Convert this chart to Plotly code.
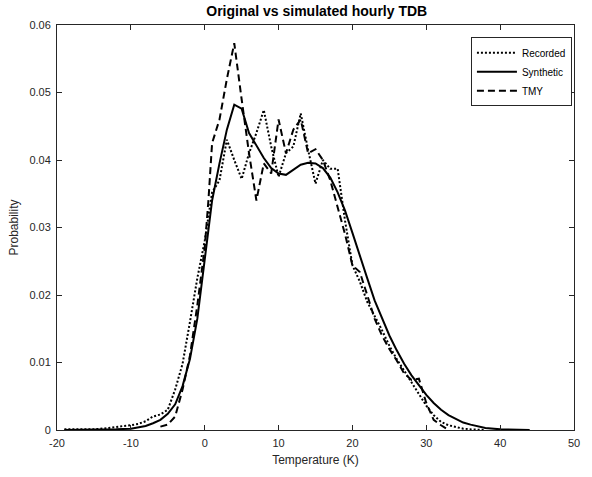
import plotly.graph_objects as go

# Recorded (dotted)
rec_t = [-19, -17, -15, -13, -12, -11, -10, -9, -8, -7, -6, -5, -4, -3, -2, -1, 0, 1, 2, 3, 4, 5, 6, 7, 8, 9, 10, 11, 12, 13, 14, 15, 16, 17, 18, 19, 20, 21, 22, 23, 24, 25, 26, 27, 28, 29, 30, 31, 32, 33, 34, 35, 36, 37, 38]
rec_p = [0.0001, 0.0001, 0.0001, 0.0003, 0.0005, 0.0006, 0.0007, 0.0009, 0.0013, 0.002, 0.0023, 0.003, 0.006, 0.0098, 0.016, 0.0225, 0.028, 0.0352, 0.037, 0.043, 0.040, 0.0372, 0.041, 0.044, 0.0474, 0.042, 0.0375, 0.041, 0.042, 0.0469, 0.0415, 0.0365, 0.040, 0.0387, 0.0387, 0.031, 0.0244, 0.022, 0.019, 0.017, 0.0148, 0.0125, 0.0105, 0.0088, 0.007, 0.0052, 0.0036, 0.0022, 0.0012, 0.0007, 0.0004, 0.0002, 0.0001, 0.00005, 0.0]

# Synthetic (solid)
syn_t = [-19, -14, -12, -10, -8, -7, -6, -5, -4, -3, -2, -1, 0, 1, 2, 3, 4, 5, 6, 7, 8, 9, 10, 11, 12, 13, 14, 15, 16, 17, 18, 19, 20, 21, 22, 23, 24, 25, 26, 27, 28, 29, 30, 31, 32, 33, 34, 35, 36, 37, 38, 40, 42, 44]
syn_p = [0.0, 0.0, 0.0001, 0.0002, 0.0006, 0.001, 0.0015, 0.0024, 0.0038, 0.0065, 0.0105, 0.0165, 0.0255, 0.034, 0.0395, 0.0445, 0.0482, 0.0476, 0.044, 0.0422, 0.0403, 0.0388, 0.038, 0.0378, 0.0385, 0.0393, 0.0396, 0.0395, 0.0388, 0.0374, 0.0352, 0.0325, 0.0292, 0.026, 0.0225, 0.0192, 0.0165, 0.014, 0.0118, 0.0098, 0.0081, 0.0066, 0.0052, 0.004, 0.003, 0.0022, 0.0016, 0.0011, 0.0008, 0.0005, 0.0003, 0.0001, 0.00003, 0.0]

# TMY (dashed)
tmy_t = [-6, -5, -4, -3, -2, -1, 0, 0.5, 1, 2, 3, 4, 5, 6, 7, 8, 9, 10, 11, 12, 13, 14, 15, 16, 17, 18, 19, 20, 21, 22, 23, 24, 25, 26, 27, 28, 29, 30, 31, 32, 33]
tmy_p = [0.0005, 0.0008, 0.002, 0.006, 0.011, 0.0185, 0.027, 0.034, 0.0425, 0.046, 0.052, 0.0573, 0.049, 0.041, 0.034, 0.0395, 0.038, 0.046, 0.041, 0.0445, 0.046, 0.041, 0.0416, 0.040, 0.037, 0.033, 0.029, 0.0244, 0.0234, 0.020, 0.0165, 0.014, 0.012, 0.0103, 0.0084, 0.0074, 0.0076, 0.004, 0.0015, 0.0007, 0.0]

x_ticks = [-20, -10, 0, 10, 20, 30, 40, 50]
x_tick_labels = ["-20", "-10", "0", "10", "20", "30", "40", "50"]
y_ticks = [0, 0.01, 0.02, 0.03, 0.04, 0.05, 0.06]
y_tick_labels = ["0", "0.01", "0.02", "0.03", "0.04", "0.05", "0.06"]

FONT = "Liberation Sans, Arial, sans-serif"
AX = "#262626"

fig = go.Figure()
fig.add_trace(go.Scatter(x=rec_t, y=rec_p, mode="lines", name="Recorded",
                         line=dict(color="black", width=2, dash="2px,2px")))
fig.add_trace(go.Scatter(x=syn_t, y=syn_p, mode="lines", name="Synthetic",
                         line=dict(color="black", width=2)))
fig.add_trace(go.Scatter(x=tmy_t, y=tmy_p, mode="lines", name="TMY",
                         line=dict(color="black", width=2, dash="7px,4px")))

axis_common = dict(showline=True, linecolor=AX, linewidth=1, mirror="ticks",
                   ticks="inside", ticklen=5, tickcolor=AX, showgrid=False,
                   zeroline=False, tickfont=dict(family=FONT, size=11, color=AX))

fig.update_layout(
    width=592, height=477,
    margin=dict(l=57, r=15, t=25, b=40),
    paper_bgcolor="white", plot_bgcolor="white",
    title=dict(text="<b>Original vs simulated hourly TDB</b>", x=0.535, xanchor="center",
               y=1 - 11 / 477, yref="container", yanchor="middle",
               font=dict(family=FONT, size=14, color="black")),
    xaxis=dict(range=[-20, 50], tickvals=x_ticks, ticktext=x_tick_labels, ticklabelstandoff=3,
               title=dict(text="Temperature (K)", standoff=7,
                          font=dict(family=FONT, size=12, color=AX)), **axis_common),
    yaxis=dict(range=[0, 0.06], tickvals=y_ticks, ticktext=y_tick_labels, ticklabelstandoff=3,
               title=dict(text="Probability", standoff=8,
                          font=dict(family=FONT, size=12, color=AX)), **axis_common),
    legend=dict(x=0.996, y=0.97, xanchor="right", yanchor="top", bgcolor="white",
                bordercolor=AX, borderwidth=1, tracegroupgap=0,
                font=dict(family=FONT, size=10, color="black"),
                itemwidth=40),
    showlegend=True,
)

fig.write_html("out.html", config={"displayModeBar": False},
               post_script="document.body.style.margin='0px';")
